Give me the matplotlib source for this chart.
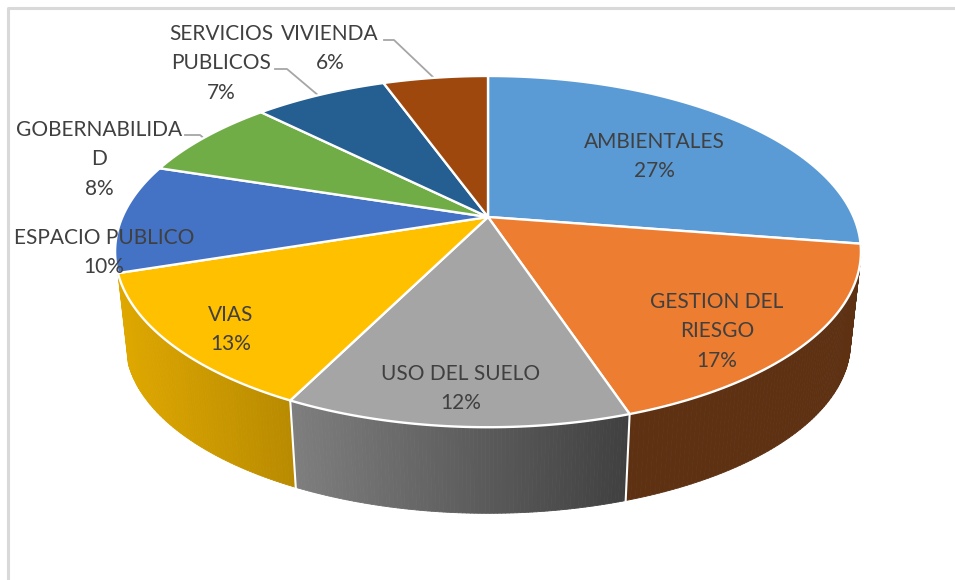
import numpy as np
import matplotlib
matplotlib.use("Agg")
import matplotlib.pyplot as plt
from matplotlib.collections import PolyCollection
from matplotlib.colors import to_rgb
from matplotlib.lines import Line2D

categories = ["AMBIENTALES", "GESTION DEL RIESGO", "USO DEL SUELO", "VIAS",
              "ESPACIO PUBLICO", "GOBERNABILIDAD", "SERVICIOS PUBLICOS", "VIVIENDA"]
shares = [27.45, 17.45, 12.45, 12.6, 10.0, 7.55, 7.0, 5.5]
top_colors = ["#5B9BD5", "#ED7D31", "#A5A5A5", "#FFC000",
              "#4472C4", "#70AD47", "#255E91", "#9E480E"]
label_lines = [["AMBIENTALES"], ["GESTION DEL", "RIESGO"], ["USO DEL SUELO"], ["VIAS"],
               ["ESPACIO PUBLICO"], ["GOBERNABILIDA", "D"], ["SERVICIOS", "PUBLICOS"], ["VIVIENDA"]]

# slices whose outer side shows, with wall colour at their left and right end
wall_left = {1: "#5E3113", 2: "#7F7F7F", 3: "#E0A900"}
wall_right = {1: "#5E3113", 2: "#404040", 3: "#B88A00"}

W, H = 955, 580
fig = plt.figure(figsize=(W / 100, H / 100), dpi=100, facecolor="white")
ax = fig.add_axes([0, 0, 1, 1])
ax.set_xlim(0, W)
ax.set_ylim(H, 0)
ax.axis("off")
plt.rcParams["font.family"] = ["Lato", "DejaVu Sans"]

K = 0.197          # perspective strength


def project(theta, cx, cy, sx, sy, scale=1.0):
    """Perspective view of a disc; theta runs clockwise from 12 o'clock."""
    w = 1 + K * np.cos(theta)
    return (cx + scale * sx * np.sin(theta) / w,
            cy - scale * sy * np.cos(theta) / w)


TOP = dict(cx=488, cy=217, sx=365.6, sy=168.8)
LOW = dict(cx=488, cy=309, sx=365.6, sy=168.8, scale=0.972)

edges = np.concatenate([[0], np.cumsum(shares)]) / np.sum(shares) * 2 * np.pi

# side wall
for i in wall_left:
    t = np.linspace(edges[i], edges[i + 1], 90)
    xt, yt = project(t, **TOP)
    xl, yl = project(t, **LOW)
    quads, cols = [], []
    lo, hi = min(xt.min(), xl.min()), max(xt.max(), xl.max())
    c0, c1 = np.array(to_rgb(wall_left[i])), np.array(to_rgb(wall_right[i]))
    for j in range(len(t) - 1):
        quads.append([(xt[j], yt[j]), (xt[j + 1], yt[j + 1]), (xl[j + 1], yl[j + 1]), (xl[j], yl[j])])
        f = ((xt[j] + xl[j]) / 2 - lo) / (hi - lo)
        cols.append(c0 + (c1 - c0) * f)
    ax.add_collection(PolyCollection(quads, facecolors=cols, edgecolors=cols, linewidths=0.6, zorder=2))

# white seams between the walls
for e in (edges[2], edges[3]):
    xa, ya = project(e, **TOP)
    xb, yb = project(e, **LOW)
    ax.plot([xa, xb], [ya, yb], color="white", lw=1.5, zorder=3)

# top face
for i in range(len(shares)):
    t = np.linspace(edges[i], edges[i + 1], 120)
    xt, yt = project(t, **TOP)
    ax.fill(np.r_[TOP["cx"], xt], np.r_[TOP["cy"], yt], facecolor=top_colors[i],
            edgecolor="white", lw=1.7, joinstyle="round", zorder=4)

# leader lines
leaders = [([384, 394, 434], [40, 40, 78]), ([275, 287, 319], [69, 69, 96]),
           ([185, 200, 206], [135, 135, 140])]
for lx, ly in leaders:
    ax.plot(lx, ly, color="#A6A6A6", lw=1.3, zorder=3)

# frame of the chart area
ax.add_line(Line2D([7.5, 7.5, W], [H, 7.5, 7.5], color="#D9D9D9", lw=2.2, zorder=1))

# labels: centre x, first row centre y
label_pos = [(654, 142), (717, 302), (461, 374), (231, 315), (104, 238), (99, 130), (221, 34), (330, 34)]
LINE = 29.4
for name_lines, share, (x, y) in zip(label_lines, shares, label_pos):
    rows = name_lines + [f"{share:.0f}%"]
    for k, row in enumerate(rows):
        ax.text(x, y + k * LINE, row, ha="center", va="center", fontsize=15,
                color="#404040", zorder=6)

fig.savefig("out.png", dpi=100, facecolor="white")
